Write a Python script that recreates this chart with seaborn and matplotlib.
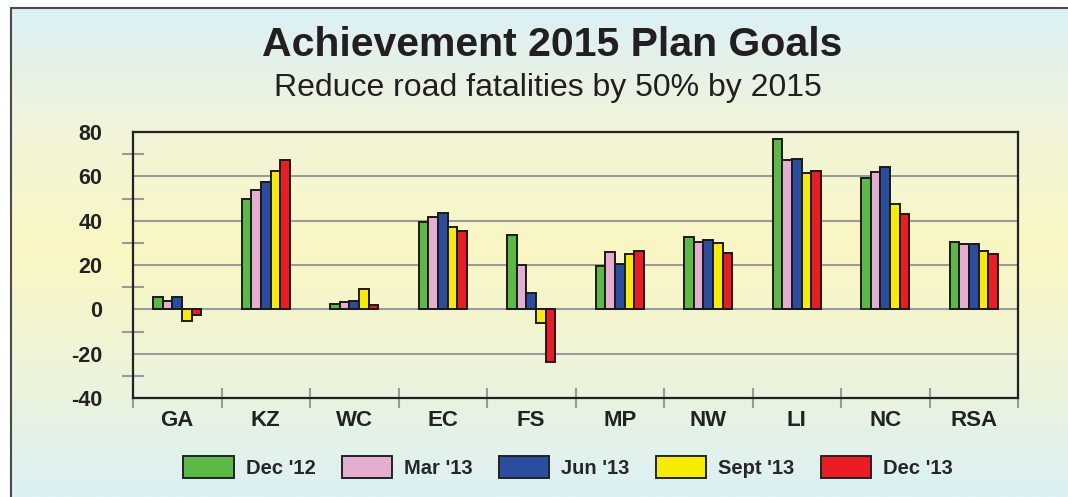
import numpy as np
import pandas as pd
import matplotlib
matplotlib.use("Agg")
import matplotlib.pyplot as plt
import matplotlib.patches as mpatches
from matplotlib.lines import Line2D
from matplotlib.colors import LinearSegmentedColormap
from matplotlib.ticker import MultipleLocator, FixedLocator
import seaborn as sns

# data
regions = ["GA", "KZ", "WC", "EC", "FS", "MP", "NW", "LI", "NC", "RSA"]
periods = ["Dec '12", "Mar '13", "Jun '13", "Sept '13", "Dec '13"]
dec12 = [5.4, 49.9, 2.4, 39.6, 33.4, 19.5, 32.8, 77.0, 59.3, 30.3]
mar13 = [3.7, 53.8, 3.1, 41.6, 20.1, 25.9, 30.3, 67.3, 61.9, 29.4]
jun13 = [5.5, 57.4, 3.9, 43.4, 7.5, 20.4, 31.2, 67.9, 64.1, 29.5]
sep13 = [-5.4, 62.3, 9.1, 37.3, -6.3, 25.0, 30.1, 61.5, 47.6, 26.2]
dec13 = [-2.7, 67.3, 1.9, 35.2, -23.7, 26.4, 25.2, 62.4, 43.0, 24.9]
colors = ["#5cb946", "#e3aed0", "#2b4d9f", "#f7ec00", "#ec1c24"]

sns.set_theme(style="white")
plt.rcParams['font.family'] = ['Liberation Sans', 'DejaVu Sans']
plt.rcParams['axes.unicode_minus'] = False

df = pd.DataFrame({"region": regions, periods[0]: dec12, periods[1]: mar13,
                   periods[2]: jun13, periods[3]: sep13, periods[4]: dec13})
df = df.melt(id_vars="region", var_name="period", value_name="value")

W, H = 1068, 497
fig = plt.figure(figsize=(W / 100, H / 100), dpi=100)
fig.patch.set_facecolor("white")

# background gradient panel
bg = fig.add_axes([11 / W, 0, 1 - 11 / W, 1 - 8 / H], zorder=-10)
cmap = LinearSegmentedColormap.from_list(
    "bg", [(0, "#dcf0f7"), (0.25, "#f1f4d8"), (0.5, "#fbf7c3"),
           (0.8, "#e9f3df"), (1, "#dcf0f5")])
grad = np.linspace(0, 1, 256).reshape(-1, 1)
bg.imshow(grad, aspect="auto", cmap=cmap, extent=[0, 1, 0, 1])
bg.axis("off")
fig.add_artist(Line2D([11 / W, 11 / W], [0, 1 - 8 / H], color="#4a4a4a", lw=1.5,
                      transform=fig.transFigure))
fig.add_artist(Line2D([11 / W, 1], [1 - 8 / H, 1 - 8 / H], color="#4a4a4a", lw=1.5,
                      transform=fig.transFigure))

ax = fig.add_axes([133 / W, 1 - 398 / H, 885 / W, 266 / H])
ax.patch.set_alpha(0)

sns.barplot(data=df, x="region", y="value", hue="period", palette=colors,
            width=0.545, edgecolor="#1a1a1a", linewidth=1.4, saturation=1,
            errorbar=None, legend=False, ax=ax)

ax.set_xlim(-0.5, 9.5)
ax.set_ylim(-40, 80)
ax.set_xlabel("")
ax.set_ylabel("")
ax.yaxis.set_major_locator(MultipleLocator(20))
ax.yaxis.set_minor_locator(MultipleLocator(10))
ax.xaxis.set_minor_locator(FixedLocator(np.arange(-0.5, 10, 1)))
ax.set_axisbelow(True)
ax.grid(axis="y", which="major", color="#9a9a9a", lw=1.5)

ax.tick_params(axis="y", which="major", direction="out", length=12, width=1.5,
               color="#9a9a9a", pad=10, labelsize=15.5, labelcolor="#222222")
ax.tick_params(axis="y", which="minor", direction="inout", length=16, width=1.5,
               color="#9a9a9a", left=True)
ax.tick_params(axis="x", which="major", length=0, pad=9, labelsize=16,
               labelcolor="#222222")
ax.tick_params(axis="x", which="minor", direction="inout", length=14, width=1.5,
               color="#9a9a9a", bottom=True)
for lab in ax.get_xticklabels() + ax.get_yticklabels():
    lab.set_fontweight("bold")

for s in ax.spines.values():
    s.set_visible(True)
    s.set_color("#222222")
    s.set_linewidth(1.6)

fig.text(0.517, 0.909, "Achievement 2015 Plan Goals", ha="center", va="center",
         fontsize=29.5, fontweight="bold", color="#231f20")
fig.text(0.513, 0.823, "Reduce road fatalities by 50% by 2015", ha="center",
         va="center", fontsize=23, color="#231f20")

handles = [mpatches.Patch(facecolor=c, edgecolor="#222222", lw=1.4, label=p)
           for c, p in zip(colors, periods)]
fig.legend(handles=handles, loc="center", bbox_to_anchor=(0.532, 0.060), ncol=5,
           frameon=False, prop={"weight": "bold", "size": 14.5},
           handlelength=2.5, handleheight=1.35, handletextpad=0.6,
           columnspacing=1.3)

fig.savefig("out.png", dpi=100)
